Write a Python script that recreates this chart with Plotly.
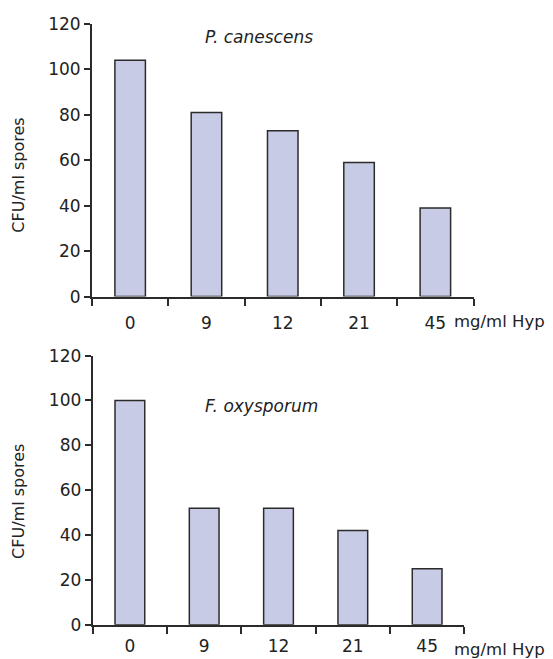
import plotly.graph_objects as go

categories = ["0", "9", "12", "21", "45"]
p_canescens = [104, 81, 73, 59, 39]
f_oxysporum = [100, 52, 52, 42, 25]
y_ticks = [0, 20, 40, 60, 80, 100, 120]
species = ["P. canescens", "F. oxysporum"]
y_title = "CFU/ml spores"
x_unit = "mg/ml Hyp"

OFF = 8  # default page body margin
W, H = 545, 664
FONT = "DejaVu Sans"
BAR_FILL = "#c7cbe5"
LINE = "#2b2b2b"
TXT = "#222"

# observed mapping from page y to picture y: pic = 0.969 * page + 9.25
SY, DY = 0.969, 9.25


def px(xp):
    return (xp - OFF) / W


def py(target):
    page = (target - DY) / SY
    return 1 - (page - OFF) / H


fig = go.Figure()
fig.add_trace(go.Bar(x=categories, y=p_canescens, xaxis="x", yaxis="y",
                     width=0.4, marker=dict(color=BAR_FILL, line=dict(color=LINE, width=1.5)),
                     showlegend=False))
fig.add_trace(go.Bar(x=categories, y=f_oxysporum, xaxis="x2", yaxis="y2",
                     width=0.4, marker=dict(color=BAR_FILL, line=dict(color=LINE, width=1.5)),
                     showlegend=False))


def xax(domain, anchor, standoff):
    return dict(domain=domain, anchor=anchor, type="category", range=[-0.5, 4.5],
                tickson="boundaries", ticks="outside", ticklen=7, tickwidth=1.5,
                tickcolor=LINE, showline=True, linecolor=LINE, linewidth=2,
                showgrid=False, zeroline=False, fixedrange=True,
                ticklabelstandoff=standoff,
                tickfont=dict(family=FONT, size=17, color=TXT))


def yax(domain, anchor):
    return dict(domain=domain, anchor=anchor, range=[0, 120], tickvals=y_ticks,
                ticks="outside", ticklen=6, tickwidth=1.5, tickcolor=LINE,
                showline=True, linecolor=LINE, linewidth=2, showgrid=False,
                zeroline=False, fixedrange=True,
                tickfont=dict(family=FONT, size=17, color=TXT))


fig.update_layout(
    width=W, height=H,
    margin=dict(l=0, r=0, t=0, b=0),
    paper_bgcolor="white", plot_bgcolor="white",
    xaxis=xax([px(92), px(473.5)], "y", 10),
    yaxis=yax([py(295.3), py(23)], "x"),
    xaxis2=xax([px(92.7), px(464.3)], "y2", 5),
    yaxis2=yax([py(623.3), py(354.3)], "x2"),
)

for txt, cy in [(y_title, 174), (y_title, 500)]:
    fig.add_annotation(x=px(18.5), y=py(cy), xref="paper", yref="paper", text=txt,
                       textangle=-90, showarrow=False, xanchor="center", yanchor="middle",
                       font=dict(family=FONT, size=16, color=TXT))

fig.add_annotation(x=px(203), y=py(36), xref="paper", yref="paper", text="<i>" + species[0] + "</i>",
                   showarrow=False, xanchor="left", yanchor="middle",
                   font=dict(family=FONT, size=17, color=TXT))
fig.add_annotation(x=px(203), y=py(405), xref="paper", yref="paper", text="<i>" + species[1] + "</i>",
                   showarrow=False, xanchor="left", yanchor="middle",
                   font=dict(family=FONT, size=17, color=TXT))

for cy in [320, 648]:
    fig.add_annotation(x=px(452), y=py(cy), xref="paper", yref="paper", text=x_unit,
                       showarrow=False, xanchor="left", yanchor="middle",
                       font=dict(family=FONT, size=16.5, color=TXT))

fig.write_html("out.html")
